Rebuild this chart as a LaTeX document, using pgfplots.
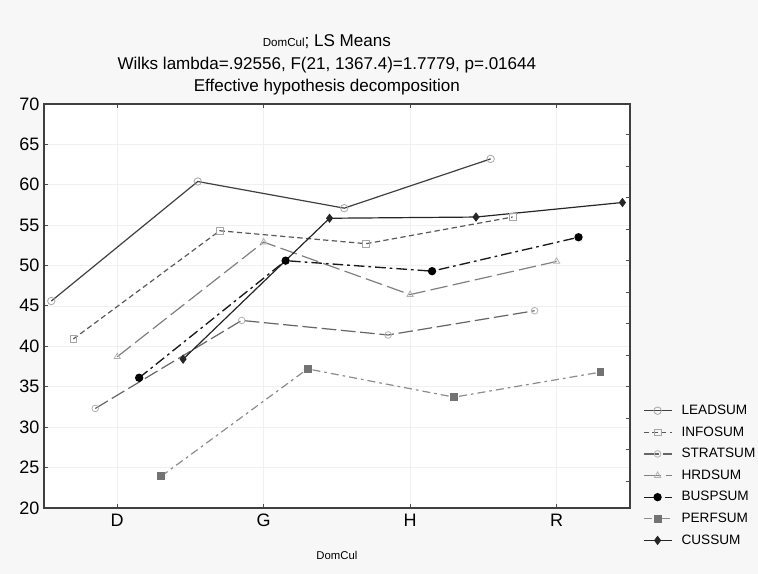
\documentclass[border=0pt]{standalone}
\usepackage{pgfplots}
\pgfplotsset{compat=1.18}
\usepackage{fontspec}
\setmainfont{Liberation Sans}
\begin{document}
\begin{tikzpicture}[x=1pt,y=1pt]
\fill[black!3] (-33pt,-49.5pt) rectangle (535.5pt,381pt);
\begin{axis}[
  scale only axis,
  width=439.5pt, height=303pt,
  xmin=-0.5, xmax=3.5, ymin=20, ymax=70,
  xtick={0,1,2,3}, xticklabels={D,G,H,R},
  ytick={20,25,...,70},
  axis background/.style={fill=white},
  axis line style={draw=black!75, line width=1.3pt},
  tick style={black!70, line width=0.6pt},
  tick align=inside,
  xtick pos=both,
  ytick pos=left,
  major tick length=3pt,
  grid=major,
  grid style={black!6, line width=0.4pt},
  /pgf/number format/assume math mode=true,
  tick label style={font=\fontsize{13.5}{15}\selectfont},
  x tick label style={yshift=-1pt},
  xlabel={DomCul},
  xlabel style={font=\fontsize{8.5}{10}\selectfont, at={(rel axis cs:0.5,0)}, anchor=center, yshift=-36pt},
  title={{\fontsize{8.7}{10}\selectfont DomCul}; LS Means\\Wilks lambda=.92556, F(21, 1367.4)=1.7779, p=.01644\\Effective hypothesis decomposition},
  title style={align=center, font=\fontsize{12.8}{17}\selectfont, at={(rel axis cs:0.5,1)}, anchor=south, yshift=-3pt, xshift=-7.5pt},
  clip=false,
  legend style={at={(rel axis cs:1.022,0.262)}, anchor=north west, draw=none, fill=none,
     font=\fontsize{10.2}{12}\selectfont, row sep=3.6pt, inner sep=0pt},
  legend cell align=left,
  legend image code/.code={\path (0pt,0pt) (26pt,0pt);\draw[mark repeat=2,mark phase=2,#1] plot coordinates {(0pt,0pt) (10.5pt,0pt) (21pt,0pt)};},
]
% LEADSUM
\addplot[color=black!75, line width=0.9pt, mark=o, mark size=2.8pt, mark options={solid, draw=black!35, fill=white, line width=0.6pt}]
  coordinates {(-0.45,45.6) (0.55,60.4) (1.55,57.1) (2.55,63.2)};
\addlegendentry{LEADSUM}
% INFOSUM
\addplot[color=black!65, line width=0.9pt, dash pattern=on 4pt off 2.5pt, mark=square, mark size=2.5pt, mark options={solid, draw=black!35, fill=white, line width=0.6pt}]
  coordinates {(-0.3,40.9) (0.7,54.3) (1.7,52.7) (2.7,56.0)};
\addlegendentry{INFOSUM}
% STRATSUM
\addplot[color=black!60, line width=0.9pt, dash pattern=on 11pt off 3.5pt, mark=o, mark size=2.5pt, mark options={solid, draw=black!30, fill=white, line width=0.6pt}]
  coordinates {(-0.15,32.3) (0.85,43.2) (1.85,41.4) (2.85,44.4)};
\addlegendentry{STRATSUM}
% HRDSUM
\addplot[color=black!50, line width=0.9pt, dash pattern=on 13pt off 4pt, mark=triangle, mark size=2.7pt, mark options={solid, draw=black!30, fill=white, line width=0.6pt}]
  coordinates {(0,38.7) (1,52.9) (2,46.4) (3,50.5)};
\addlegendentry{HRDSUM}
% BUSPSUM
\addplot[color=black!90, line width=1pt, dash pattern=on 8pt off 3pt on 2pt off 3pt, mark=*, mark size=2.6pt, mark options={solid, draw=black, fill=black}]
  coordinates {(0.15,36.1) (1.15,50.6) (2.15,49.3) (3.15,53.5)};
\addlegendentry{BUSPSUM}
% PERFSUM
\addplot[color=black!45, line width=0.9pt, dash pattern=on 6pt off 3pt on 2pt off 3pt, mark=square*, mark size=2.5pt, mark options={solid, draw=black!55, fill=black!55}]
  coordinates {(0.3,23.9) (1.3,37.2) (2.3,33.7) (3.3,36.8)};
\addlegendentry{PERFSUM}
% CUSSUM
\addplot[color=black!85, line width=0.9pt, mark=diamond*, mark size=2.8pt, mark options={solid, draw=black!85, fill=black!85}]
  coordinates {(0.45,38.4) (1.45,55.85) (2.45,56.0) (3.45,57.8)};
\addlegendentry{CUSSUM}
\end{axis}
\begin{axis}[
  scale only axis,
  width=439.5pt, height=303pt,
  xmin=-0.5, xmax=3.5, ymin=20, ymax=70,
  hide x axis,
  axis y line*=right,
  y axis line style={draw=none},
  ytick={23.3,27.2,31.1,35.0,38.9,42.8,46.7,50.6,54.5,58.4,62.33,66.25},
  yticklabels={},
  tick align=inside,
  major tick length=3pt,
  tick style={black!70, line width=0.6pt},
]
\addplot[draw=none] coordinates {(0,30)};
\end{axis}
\path[use as bounding box] (-33pt,-49.5pt) rectangle (535.5pt,381pt);
\end{tikzpicture}
\end{document}
